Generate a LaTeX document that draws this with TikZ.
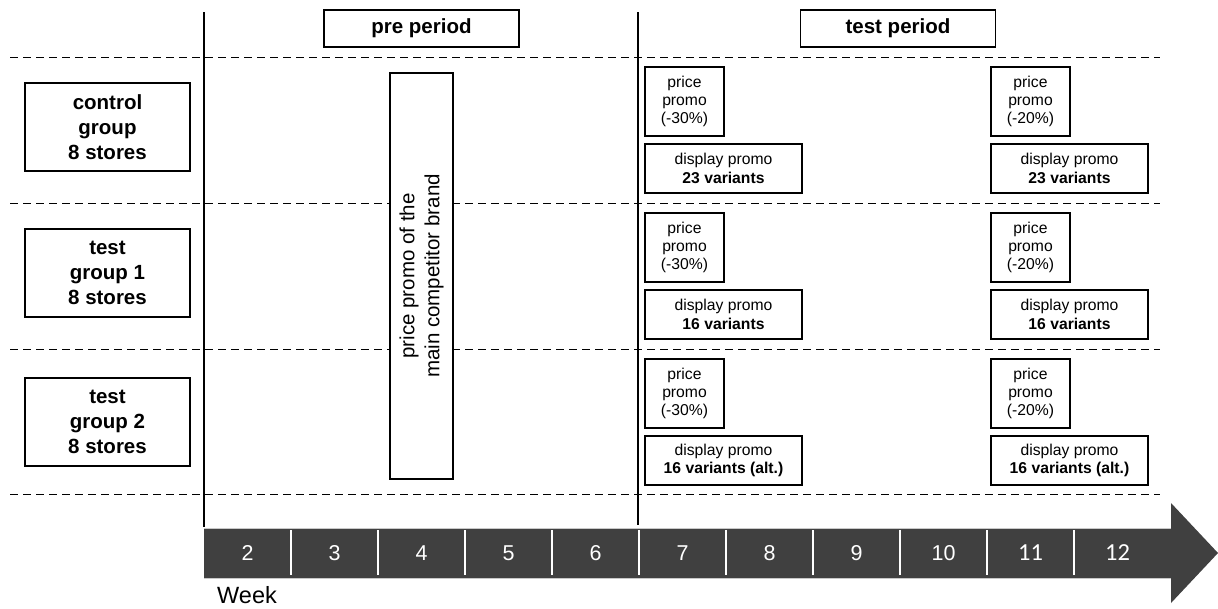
\documentclass[tikz,border=0pt]{standalone}
\usepackage{fontspec}
\setmainfont{Liberation Sans}
\newfontfamily\carlfont{Carlito}
\definecolor{arrowgray}{HTML}{404040}
\definecolor{edgegray}{HTML}{C8C8C8}
\begin{document}
\begin{tikzpicture}[x=1pt,y=-1pt,
  box/.style={draw, line width=1.2pt, fill=white, inner sep=0pt, align=center},
  grouplabel/.style={box, minimum width=165pt, minimum height=88pt,
    font=\fontsize{20.5}{25}\selectfont\bfseries},
  periodlabel/.style={box, minimum width=195pt, minimum height=37pt,
    font=\fontsize{20.5}{22}\selectfont\bfseries},
  pricebox/.style={box, minimum width=79pt, minimum height=69pt,
    font=\fontsize{15.7}{18.3}\selectfont},
  displaybox/.style={box, minimum width=157pt, minimum height=49pt,
    font=\fontsize{15.7}{18.3}\selectfont},
  gridline/.style={dashed, dash pattern=on 8pt off 5pt, line width=1pt},
  divider/.style={line width=1.3pt},
  weeknum/.style={text=white, font=\fontsize{21.5}{24}\selectfont},
  weeknumc/.style={text=white, font=\carlfont\fontsize{24.5}{26}\selectfont},
  sep/.style={draw=white, line width=1.2pt}
]
\useasboundingbox (0,0) rectangle (1218,608);

% dashed grid lines
\foreach \yy in {57,203,349,494}
  \draw[gridline] (10,\yy) -- (1160,\yy);

% vertical dividers
\coordinate (v1t) at (204,12); \coordinate (v1b) at (204,527);
\coordinate (v2t) at (638,12); \coordinate (v2b) at (638,525);
\draw[divider] (v1t) -- (v1b);
\draw[divider] (v2t) -- (v2b);

% period labels
\node[periodlabel] (pre) at (421.5,28.5) {pre period};
\node[periodlabel] (test) at (898,28.5) {test period};

% group labels
\node[grouplabel] (cg) at (107.5,127) {control\\group\\8 stores};
\node[grouplabel] (tg1) at (107.5,273) {test\\group 1\\8 stores};
\node[grouplabel] (tg2) at (107.5,422) {test\\group 2\\8 stores};

% competitor promo
\node[box, rotate=90, minimum width=406pt, minimum height=63pt,
  font=\fontsize{20.5}{25}\selectfont] (comp) at (421.5,276)
  {price promo of the\\main competitor brand};

% row 1
\node[pricebox] (p1a) at (684.5,101.5) {price\\promo\\(-30\%)};
\node[displaybox] (d1a) at (723.5,168.5) {display promo\\\textbf{23 variants}};
\node[pricebox] (p1b) at (1030.5,101.5) {price\\promo\\(-20\%)};
\node[displaybox] (d1b) at (1069.5,168.5) {display promo\\\textbf{23 variants}};
% row 2
\node[pricebox] (p2a) at (684.5,247.5) {price\\promo\\(-30\%)};
\node[displaybox] (d2a) at (723.5,314.5) {display promo\\\textbf{16 variants}};
\node[pricebox] (p2b) at (1030.5,247.5) {price\\promo\\(-20\%)};
\node[displaybox] (d2b) at (1069.5,314.5) {display promo\\\textbf{16 variants}};
% row 3
\node[pricebox] (p3a) at (684.5,393.5) {price\\promo\\(-30\%)};
\node[displaybox] (d3a) at (723.5,460.5) {display promo\\\textbf{16 variants (alt.)}};
\node[pricebox] (p3b) at (1030.5,393.5) {price\\promo\\(-20\%)};
\node[displaybox] (d3b) at (1069.5,460.5) {display promo\\\textbf{16 variants (alt.)}};

% timeline arrow
\fill[arrowgray] (204,528) -- (1171,528) -- (1171,503) -- (1218,553)
  -- (1171,603) -- (1171,578) -- (204,578) -- cycle;
\draw[edgegray, line width=0.8pt] (204,528) -- (1171,528);
\draw[edgegray, line width=0.8pt] (204,578) -- (1171,578);
\foreach \xx in {291,378,465,552,639,726,813,900,987,1074}
  \draw[sep] (\xx,530) -- (\xx,575);
\foreach \n [count=\i from 0] in {2,3,4,5,6,7,8,9,10}
  \node[weeknum] (w\n) at ({247.5+87*\i},553) {\n};
\node[weeknumc] (w11) at (1030.5,553) {11};
\node[weeknumc] (w12) at (1117.5,553) {12};

\node[anchor=west, font=\fontsize{23.5}{25}\selectfont, inner sep=0pt] (week) at (217,595) {Week};
\end{tikzpicture}
\end{document}
